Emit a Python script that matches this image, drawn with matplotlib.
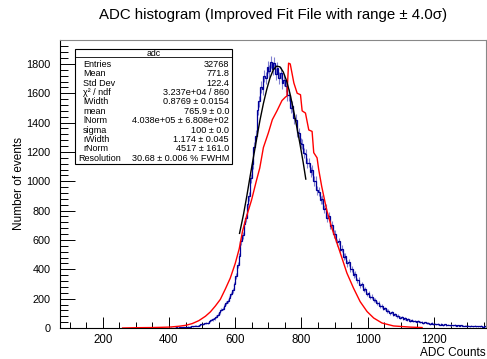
import numpy as np
import matplotlib
matplotlib.use("Agg")
import matplotlib.pyplot as plt
from matplotlib.patches import Rectangle
from matplotlib.ticker import MultipleLocator

plt.rcParams['font.family'] = ['Liberation Sans', 'DejaVu Sans']

# ADC spectrum, 5-count bins starting at 400
adc_first_edge = 400
adc_bin_width = 5
adc_counts = [
    1, 3, 0, 2, 4, 2, 5, 3, 6, 4,
    7, 10, 8, 12, 11, 14, 17, 15, 21, 24,
    26, 31, 36, 34, 45, 52, 58, 66, 78, 92,
    108, 124, 131, 150, 168, 186, 205, 232, 256, 298,
    355, 428, 492, 590, 632, 706, 748, 842, 898, 1020,
    1118, 1236, 1312, 1488, 1545, 1642, 1628, 1718, 1702, 1779,
    1752, 1812, 1768, 1806, 1731, 1772, 1705, 1740, 1668, 1689,
    1648, 1585, 1590, 1502, 1510, 1428, 1420, 1338, 1330, 1262,
    1255, 1190, 1185, 1122, 1128, 1064, 1078, 1002, 1001, 938,
    930, 872, 878, 812, 816, 752, 763, 698, 702, 641,
    640, 585, 591, 533, 541, 486, 490, 440, 447, 401,
    405, 362, 366, 325, 330, 292, 297, 259, 266, 233,
    238, 211, 214, 188, 192, 168, 171, 149, 152, 131,
    134, 116, 119, 102, 106, 90, 93, 80, 83, 71,
    74, 64, 66, 57, 60, 51, 54, 46, 49, 43,
    45, 39, 41, 35, 38, 32, 35, 29, 32, 27,
    30, 25, 28, 23, 26, 21, 24, 20, 23, 19,
    21, 18, 20, 16, 19, 15, 18, 14, 17, 14,
    16, 13, 15, 12, 14, 11, 13, 12, 14, 10, 12, 11,
]

# Improved fit file spectrum
fitfile_adc = [260, 300, 350, 400, 430, 450, 470, 490, 510, 525, 540, 555, 570,
               585, 600, 612, 622, 634, 649, 664, 674, 685, 700, 712, 726, 741,
               752, 756, 761, 766, 777, 787, 797, 802, 812, 822, 832, 837, 847,
               852, 861, 876, 891, 907, 922, 937, 957, 977, 998, 1018, 1043,
               1078, 1129, 1164]
fitfile_counts = [0, 2, 3, 6, 12, 18, 30, 50, 80, 110, 150, 195, 265,
                  340, 440, 540, 660, 760, 870, 1005, 1090, 1230, 1330, 1420,
                  1480, 1550, 1575, 1580, 1805, 1800, 1670, 1600, 1590, 1480,
                  1465, 1350, 1340, 1195, 1160, 1080, 965, 805, 685, 580, 478,
                  375, 272, 180, 112, 68, 34, 14, 6, 3]

# Fitted peak curve
fit_adc = [613, 625, 635, 645, 655, 665, 675, 685, 695, 705, 715, 725, 735,
           745, 755, 765, 775, 785, 795, 805, 813]
fit_counts = [645, 775, 900, 1035, 1165, 1295, 1420, 1530, 1625, 1705, 1760,
              1785, 1780, 1745, 1685, 1600, 1495, 1380, 1260, 1130, 1015]

stat_names = ["Entries", "Mean", "Std Dev", "\u03c7\u00b2 / ndf", "lWidth", "mean",
              "lNorm", "sigma", "rWidth", "rNorm", "Resolution"]
stat_values = ["32768", "771.8", "122.4", "3.237e+04 / 860", "0.8769 \u00b1 0.0154",
               "765.9 \u00b1 0.0", "4.038e+05 \u00b1 6.808e+02", "100 \u00b1 0.0",
               "1.174 \u00b1 0.045", "4517 \u00b1 161.0", "30.68 \u00b1 0.006 % FWHM"]

W, H = 487, 359
fig = plt.figure(figsize=(W / 100, H / 100), dpi=100)
L, R, T, B = 60, 486, 40, 328
ax = fig.add_axes([L / W, 1 - B / H, (R - L) / W, (B - T) / H])

counts = np.array(adc_counts, dtype=float)
edges = adc_first_edge + adc_bin_width * np.arange(len(counts) + 1)
centers = 0.5 * (edges[:-1] + edges[1:])

# statistical error bars, then the histogram outline
ax.vlines(centers, counts - np.sqrt(counts), counts + np.sqrt(counts),
          color='#8080d0', lw=0.8, zorder=2)
ax.stairs(counts, edges, color='#000099', lw=0.9, zorder=3)
ax.plot(fitfile_adc, fitfile_counts, color='red', lw=1.0, zorder=4)
ax.plot(fit_adc, fit_counts, color='black', lw=1.0, zorder=5)

ax.set_xlim(71, 1357)
ax.set_ylim(0, 1963)
ax.xaxis.set_major_locator(MultipleLocator(200))
ax.xaxis.set_minor_locator(MultipleLocator(50))
ax.yaxis.set_major_locator(MultipleLocator(200))
ax.yaxis.set_minor_locator(MultipleLocator(40))
ax.tick_params(which='both', direction='in', top=False, right=False,
               labelsize=8.3, width=0.7, colors='black')
ax.tick_params(axis='y', which='major', length=11, pad=7, labelsize=7.8)
ax.tick_params(axis='y', which='minor', length=6)
ax.tick_params(axis='x', which='major', length=8, pad=4)
ax.tick_params(axis='x', which='minor', length=4)
for side in ['left', 'bottom']:
    ax.spines[side].set_color('black')
    ax.spines[side].set_linewidth(0.8)
for side in ['top', 'right']:
    ax.spines[side].set_color('#888888')
    ax.spines[side].set_linewidth(0.8)

ax.set_xlabel("ADC Counts", fontsize=8.5, ha='right', x=1.0, labelpad=1)
ax.set_ylabel("Number of events", fontsize=8.5)
ax.yaxis.label.set_va('center')
ax.yaxis.set_label_coords((19 - L) / (R - L), 0.5)

fig.text(273 / W, 1 - 15 / H, "ADC histogram (Improved Fit File with range \u00b1 4.0\u03c3)",
         ha='center', va='center', fontsize=10.8)

# statistics box
bx0, bx1, by0, by1 = 75, 232, 49, 164
fig.patches.append(Rectangle((bx0 / W, 1 - by1 / H), (bx1 - bx0) / W, (by1 - by0) / H,
                             transform=fig.transFigure, fill=True, facecolor='white',
                             edgecolor='black', lw=0.8, zorder=10))
fig.lines.append(plt.Line2D([bx0 / W, bx1 / W], [1 - 57.3 / H, 1 - 57.3 / H],
                            transform=fig.transFigure, color='black', lw=0.6, zorder=11))
fig.text((bx0 + bx1) / 2 / W, 1 - 53.3 / H, "adc", ha='center', va='center',
         fontsize=6.3, zorder=12)
row0, drow = 64.3, 9.4
for i, (name, val) in enumerate(zip(stat_names, stat_values)):
    y = 1 - (row0 + i * drow) / H
    name_x = 78 if name == "Resolution" else 83
    fig.text(name_x / W, y, name, ha='left', va='center', fontsize=6.5, zorder=12)
    fig.text(229 / W, y, val, ha='right', va='center', fontsize=6.6, zorder=12)

fig.savefig("out.png", dpi=100)
